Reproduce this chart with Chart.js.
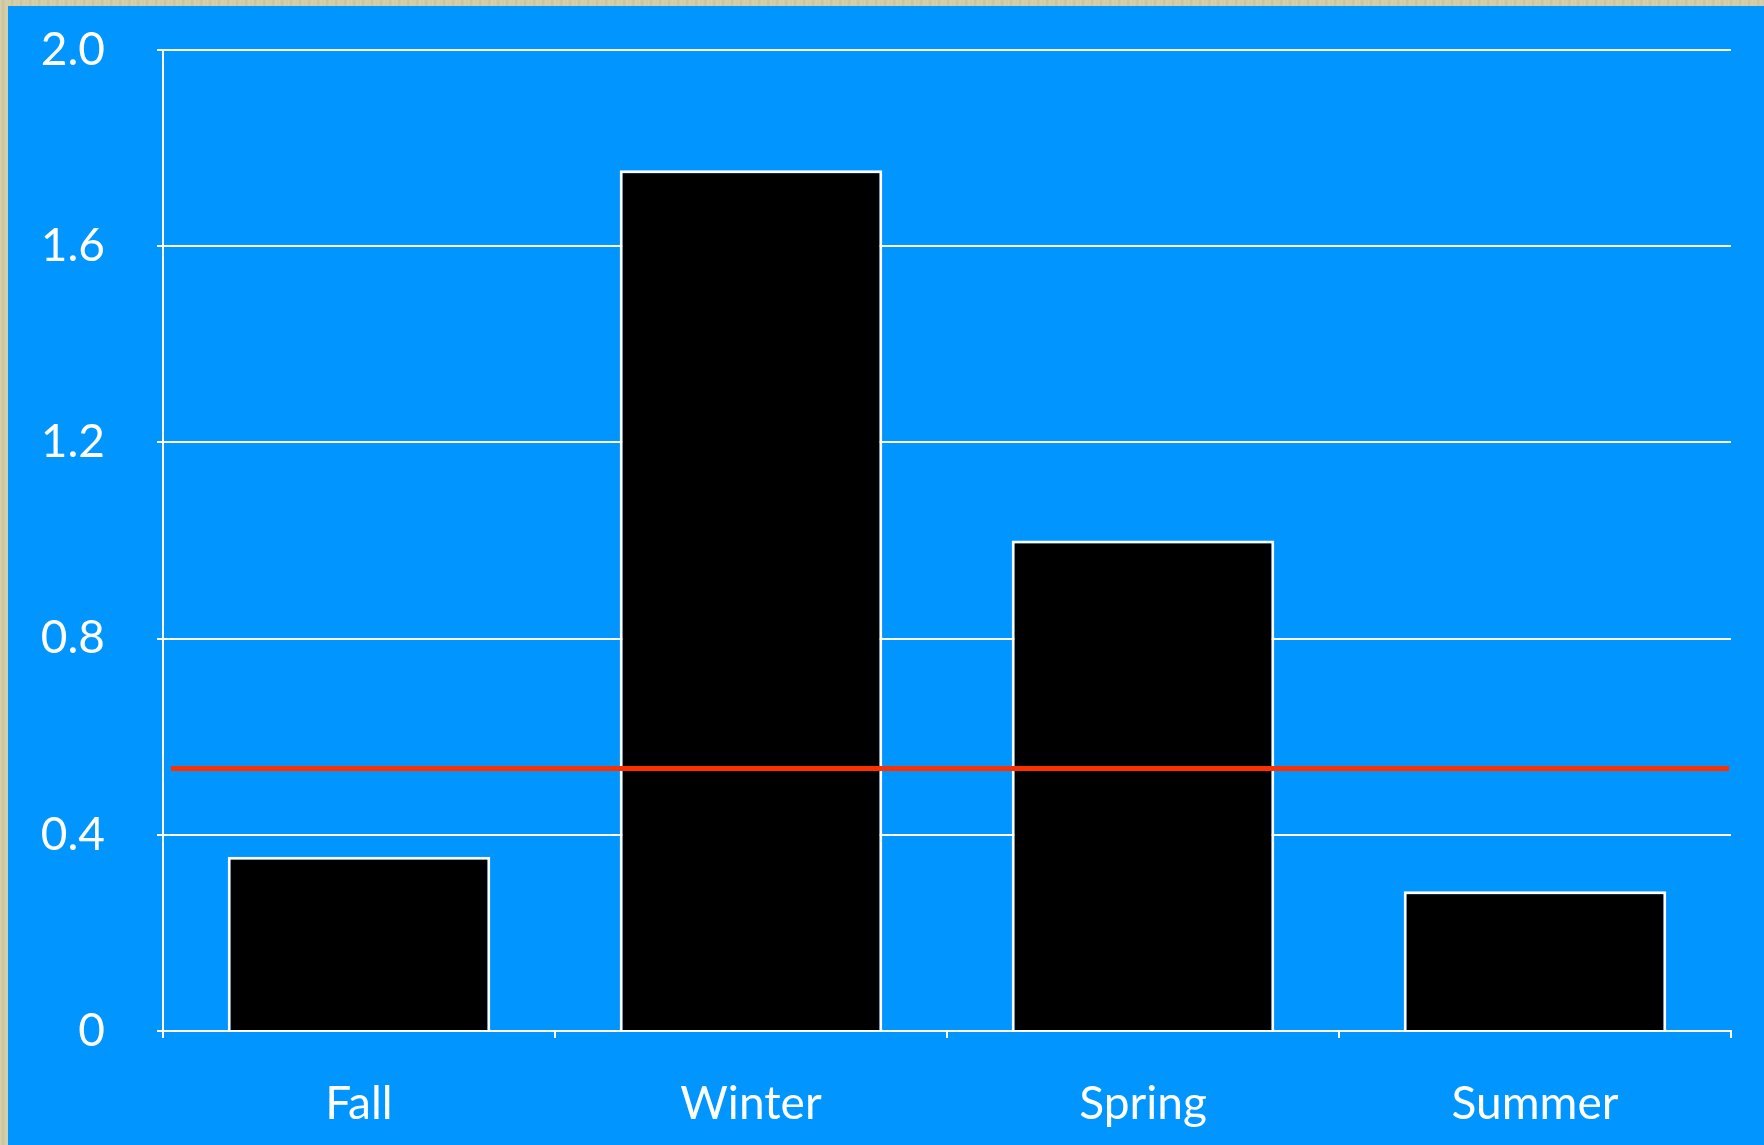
<!DOCTYPE html>
<html>
<head>
<meta charset="utf-8">
<script src="https://cdn.jsdelivr.net/npm/chart.js@4"></script>
<style>
  html, body { margin: 0; padding: 0; }
  body {
    width: 1764px;
    height: 1145px;
    overflow: hidden;
    background-color: #d2cca8;
    background-image: repeating-linear-gradient(90deg, #d8d3b0 0px, #c9c39d 3px, #d6d1ad 6px, #cec8a3 9px);
  }
  .panel {
    position: absolute;
    left: 8px;
    top: 6px;
    width: 1756px;
    height: 1139px;
    background: #0095ff;
  }
</style>
</head>
<body>
<div class="panel">
  <canvas id="season-chart" width="1756" height="1139"></canvas>
</div>
<script>
const seasons = ['Fall', 'Winter', 'Spring', 'Summer'];
const seasonValues = [0.355, 1.755, 1.0, 0.285];
const yTicks = [0, 0.4, 0.8, 1.2, 1.6, 2.0];
const thresholdValue = 0.535;

const fontFamily = 'Lato, "Open Sans", sans-serif';

// red reference line across the plot
const thresholdLine = {
    id: 'thresholdLine',
    afterDatasetsDraw(chart) {
        const { ctx, chartArea, scales } = chart;
        const y = scales.y.getPixelForValue(thresholdValue);
        ctx.save();
        ctx.strokeStyle = '#ff3000';
        ctx.lineWidth = 5;
        ctx.beginPath();
        ctx.moveTo(chartArea.left + 8, y);
        ctx.lineTo(chartArea.right - 2, y);
        ctx.stroke();
        ctx.restore();
    }
};

const ctx = document.getElementById('season-chart').getContext('2d');

const seasonChart = new Chart(ctx, {
    type: 'bar',
    data: {
        labels: seasons,
        datasets: [{
            data: seasonValues,
            backgroundColor: '#000000',
            borderColor: '#ffffff',
            borderWidth: 3,
            barPercentage: 0.67,
            categoryPercentage: 1.0
        }]
    },
    options: {
        responsive: false,
        animation: false,
        layout: {
            padding: { left: 0, right: 33, top: 44, bottom: 0 }
        },
        plugins: {
            legend: { display: false },
            tooltip: { enabled: false }
        },
        scales: {
            x: {
                offset: true,
                afterFit(scale) {
                    scale.height = 114;
                    scale.paddingLeft = 0;
                    scale.paddingRight = 0;
                },
                grid: {
                    offset: true,
                    drawOnChartArea: false,
                    drawTicks: true,
                    tickLength: 7,
                    color: '#ffffff',
                    lineWidth: 2
                },
                border: { color: '#ffffff', width: 2 },
                ticks: {
                    color: '#ffffff',
                    padding: 39,
                    font: { family: fontFamily, size: 46 }
                }
            },
            y: {
                min: 0,
                max: 2.0,
                afterFit(scale) {
                    scale.width = 155;
                    scale.paddingTop = 0;
                    scale.paddingBottom = 0;
                },
                afterBuildTicks(scale) {
                    scale.ticks = yTicks.map(v => ({ value: v }));
                },
                grid: {
                    color: '#ffffff',
                    lineWidth: 2,
                    tickLength: 6
                },
                border: { color: '#ffffff', width: 2 },
                ticks: {
                    color: '#ffffff',
                    padding: 52,
                    font: { family: fontFamily, size: 46 },
                    callback: v => (v === 0 ? '0' : v.toFixed(1))
                }
            }
        }
    },
    plugins: [thresholdLine]
});
</script>
</body>
</html>
